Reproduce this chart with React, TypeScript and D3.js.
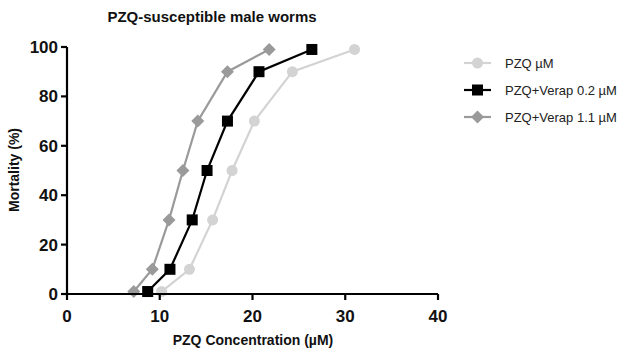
import { useMemo } from 'react';
import * as d3 from 'd3';

const WIDTH = 625;
const HEIGHT = 354;
const MARGIN = { top: 47, right: 187, bottom: 60, left: 67 };
const INNER_W = WIDTH - MARGIN.left - MARGIN.right;
const INNER_H = HEIGHT - MARGIN.top - MARGIN.bottom;

const xTicks = [0, 10, 20, 30, 40];
const yTicks = [0, 20, 40, 60, 80, 100];

const mortality = [1, 10, 30, 50, 70, 90, 99];
const pzqConc = [10.2, 13.2, 15.7, 17.8, 20.2, 24.3, 31.0];
const verap02Conc = [8.7, 11.1, 13.5, 15.1, 17.3, 20.7, 26.4];
const verap11Conc = [7.2, 9.2, 11.0, 12.5, 14.1, 17.3, 21.8];

type Marker = 'circle' | 'square' | 'diamond';

const seriesNames = ['PZQ µM', 'PZQ+Verap 0.2 µM', 'PZQ+Verap 1.1 µM'];
const seriesConc = [pzqConc, verap02Conc, verap11Conc];
const seriesColors = ['#d3d3d3', '#000000', '#9a9a9a'];
const seriesMarkers: Marker[] = ['circle', 'square', 'diamond'];

const FONT = 'Arial, "Liberation Sans", sans-serif';

function MarkerShape({ kind, cx, cy, color }: { kind: Marker; cx: number; cy: number; color: string }) {
  if (kind === 'circle') return <circle cx={cx} cy={cy} r={5.5} fill={color} />;
  if (kind === 'square') return <rect x={cx - 5.5} y={cy - 5.5} width={11} height={11} fill={color} />;
  const r = 6.5;
  return (
    <path
      d={`M${cx},${cy - r}L${cx + r},${cy}L${cx},${cy + r}L${cx - r},${cy}Z`}
      fill={color}
    />
  );
}

export default function App() {
  const { x, y } = useMemo(() => {
    const x = d3.scaleLinear().domain([0, 40]).range([0, INNER_W]);
    const y = d3.scaleLinear().domain([0, 100]).range([INNER_H, 0]);
    return { x, y };
  }, []);

  const line = d3
    .line<[number, number]>()
    .x((d) => x(d[0]))
    .y((d) => y(d[1]));

  return (
    <svg
      width={WIDTH}
      height={HEIGHT}
      style={{ position: 'absolute', left: 0, top: 0, background: '#fff' }}
      fontFamily={FONT}
    >
      {/* Title */}
      <text x={212} y={22} textAnchor="middle" fontSize={15} fontWeight={700} fill="#111">
        PZQ-susceptible male worms
      </text>

      <g transform={`translate(${MARGIN.left},${MARGIN.top})`}>
        {/* Series */}
        {seriesConc.map((conc, si) => {
          const pts = conc.map((c, i) => [c, mortality[i]] as [number, number]);
          return (
            <g key={seriesNames[si]}>
              <path d={line(pts) ?? ''} fill="none" stroke={seriesColors[si]} strokeWidth={2.2} />
              {pts.map((p, i) => (
                <MarkerShape key={i} kind={seriesMarkers[si]} cx={x(p[0])} cy={y(p[1])} color={seriesColors[si]} />
              ))}
            </g>
          );
        })}

        {/* Axes */}
        <line x1={0} y1={INNER_H} x2={x(40)} y2={INNER_H} stroke="#000" strokeWidth={2.2} />
        <line x1={0} y1={0} x2={0} y2={INNER_H} stroke="#000" strokeWidth={2.2} />

        {xTicks.map((t) => (
          <g key={t} transform={`translate(${x(t)},${INNER_H})`}>
            <line y1={0} y2={6} stroke="#000" strokeWidth={2.2} />
            <text y={28} textAnchor="middle" fontSize={17} fontWeight={700} fill="#111">
              {t}
            </text>
          </g>
        ))}

        {yTicks.map((t) => (
          <g key={t} transform={`translate(0,${y(t)})`}>
            <line x1={-6} x2={0} stroke="#000" strokeWidth={2.2} />
            <text x={-9} dy="0.35em" textAnchor="end" fontSize={17} fontWeight={700} fill="#111">
              {t}
            </text>
          </g>
        ))}
      </g>

      {/* Axis labels */}
      <text x={253} y={345} textAnchor="middle" fontSize={14} fontWeight={700} fill="#111">
        PZQ Concentration (µM)
      </text>
      <text
        transform={`translate(19,170) rotate(-90)`}
        textAnchor="middle"
        fontSize={14}
        fontWeight={700}
        fill="#111"
      >
        Mortality (%)
      </text>

      {/* Legend */}
      {seriesNames.map((name, i) => {
        const ly = 63 + i * 27;
        return (
          <g key={name}>
            <line x1={464} x2={491} y1={ly} y2={ly} stroke={seriesColors[i]} strokeWidth={2.2} />
            <MarkerShape kind={seriesMarkers[i]} cx={477.5} cy={ly} color={seriesColors[i]} />
            <text x={505} y={ly} dy="0.35em" fontSize={13} fill="#222">
              {name}
            </text>
          </g>
        );
      })}
    </svg>
  );
}
